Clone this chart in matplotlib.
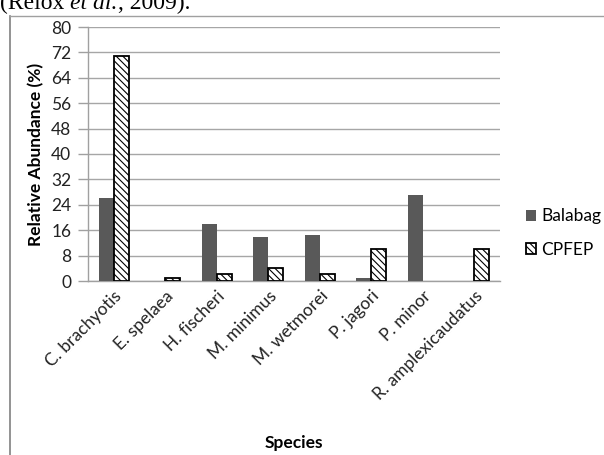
import matplotlib
matplotlib.use("Agg")
import matplotlib.pyplot as plt
import numpy as np
from matplotlib.patches import Patch

species = ["C. brachyotis", "E. spelaea", "H. fischeri", "M. minimus",
           "M. wetmorei", "P. jagori", "P. minor", "R. amplexicaudatus"]
balabag = [26, 0, 18, 14, 14.6, 0.9, 27, 0]
cpfep = [71, 1, 2.2, 4.2, 2.2, 10, 0, 10]
yticks = [0, 8, 16, 24, 32, 40, 48, 56, 64, 72, 80]

plt.rcParams['font.family'] = ['Lato', 'DejaVu Sans']
plt.rcParams['hatch.linewidth'] = 0.8

W, H = 604, 455
fig = plt.figure(figsize=(W / 100, H / 100), dpi=100)
ax = fig.add_axes([88 / W, 1 - 281 / H, (500 - 88) / W, (281 - 27) / H])

x = np.arange(len(species))
bw = 0.29
b = np.array(balabag, dtype=float)
c = np.array(cpfep, dtype=float)
mb = b > 0
mc = c > 0
ax.bar(x[mb] - bw / 2, b[mb], bw, color='#595959', edgecolor='none', zorder=3)
ax.bar(x[mc] + bw / 2, c[mc], bw, color='white', edgecolor='black',
       linewidth=1.3, hatch='\\\\\\\\\\', zorder=3)

fs = 12.5
ax.set_xlim(-0.5, len(species) - 0.5)
ax.set_ylim(0, 80)
ax.set_yticks(yticks)
ax.set_yticklabels([str(v) for v in yticks], fontsize=fs, color='#222222')
ax.set_xticks(x)
ax.set_xticklabels(species, rotation=45, ha='right', va='top',
                   rotation_mode='anchor', fontsize=fs, color='#222222')
ax.tick_params(axis='x', length=0, pad=5)
ax.tick_params(axis='y', length=7, color='#a0a0a0', width=1, pad=5)
ax.grid(axis='y', color='#a6a6a6', linewidth=1, zorder=0)
for s in ['top', 'right']:
    ax.spines[s].set_visible(False)
for s in ['left', 'bottom']:
    ax.spines[s].set_color('#a0a0a0')
    ax.spines[s].set_linewidth(1)

ax.set_ylabel("Relative Abundance (%)", fontsize=fs, fontweight='bold',
              labelpad=5)
ax.set_xlabel("Species", fontsize=fs, fontweight='bold')
ax.xaxis.set_label_coords(0.5, -(443 - 281) / (281 - 27), transform=ax.transAxes)
ax.xaxis.label.set_va('center')

handles = [Patch(facecolor='#595959', edgecolor='none', label='Balabag'),
           Patch(facecolor='white', edgecolor='black', linewidth=1.3,
                 hatch='\\\\\\\\\\', label='CPFEP')]
leg = fig.legend(handles=handles, loc='center left',
                 bbox_to_anchor=(510 / W, 1 - 233 / H), frameon=False,
                 fontsize=fs, handlelength=0.6, handleheight=0.6,
                 handletextpad=0.3, labelspacing=1.0)

# page frame and clipped citation line from the source document
fig.add_artist(plt.Line2D([10 / W, 10 / W], [0, 1 - 16 / H], color='#808080',
                          linewidth=1.2, transform=fig.transFigure))
fig.add_artist(plt.Line2D([10 / W, 1], [1 - 16 / H, 1 - 16 / H], color='#a0a0a0',
                          linewidth=1, transform=fig.transFigure))

renderer = fig.canvas.get_renderer()
xpos = 0.0
base_y = 1 - 9 / H
for part, style in [("(Relox ", 'normal'), ("et al.", 'italic'), (", 2009).", 'normal')]:
    t = fig.text(xpos / W, base_y, part, family='Liberation Serif', fontsize=17,
                 style=style, va='baseline', ha='left')
    bb = t.get_window_extent(renderer)
    xpos += bb.width

fig.savefig("out.png", dpi=100)
